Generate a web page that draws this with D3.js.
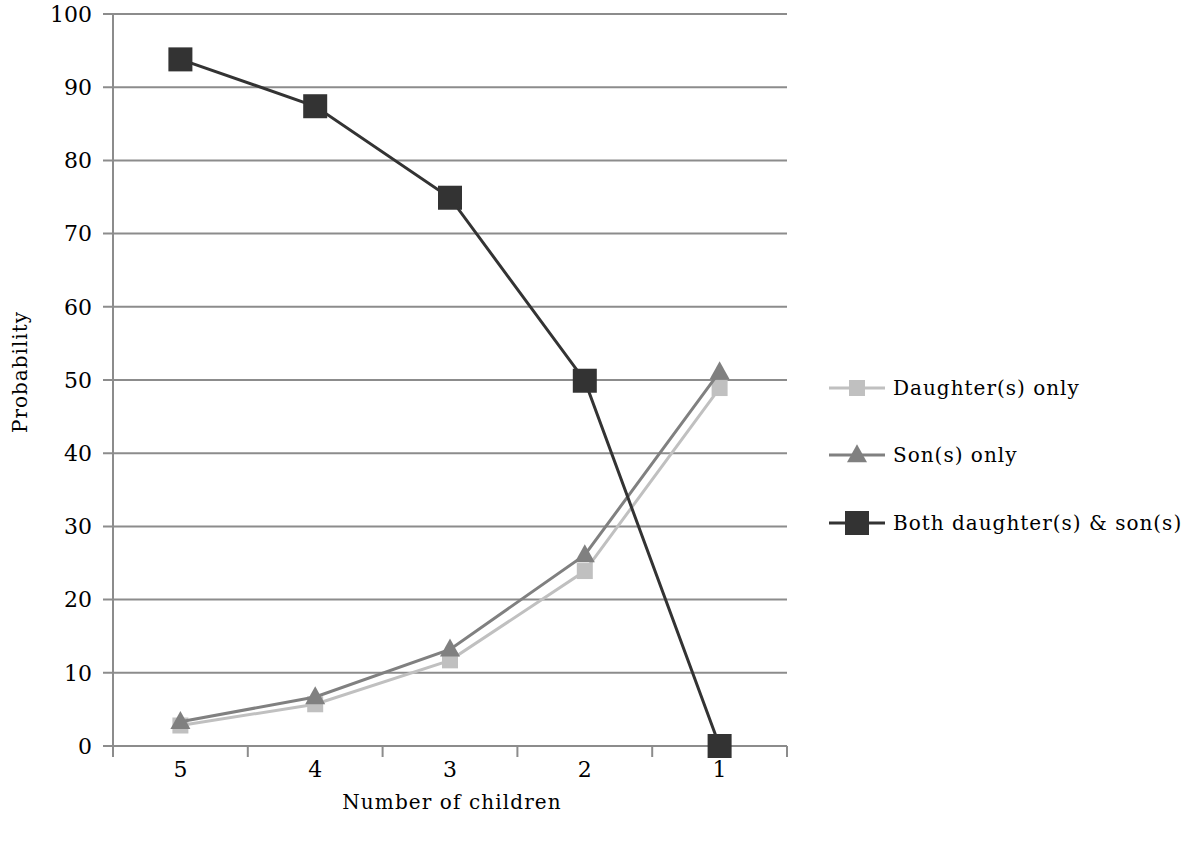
<!DOCTYPE html>
<html>
<head>
<meta charset="utf-8">
<script src="https://cdn.jsdelivr.net/npm/d3@7"></script>
<style>
  body { margin: 0; background: #fff; }
  text { font-family: "DejaVu Serif", serif; }
</style>
</head>
<body>
<svg id="chart" width="1190" height="842"></svg>
<script>
// data
var categories = ["5", "4", "3", "2", "1"];
var daughters = [2.8, 5.7, 11.7, 23.9, 48.9];
var sons = [3.3, 6.7, 13.2, 26.1, 51.1];
var both = [93.8, 87.4, 74.9, 49.9, 0];
var yTicks = [0, 10, 20, 30, 40, 50, 60, 70, 80, 90, 100];

var series = [
    { name: "Daughter(s) only", values: daughters, color: "#c0c0c0", shape: "square", size: 16 },
    { name: "Son(s) only", values: sons, color: "#808080", shape: "triangle", size: 20 },
    { name: "Both daughter(s) & son(s)", values: both, color: "#333333", shape: "square", size: 24 }
];

var svg = d3.select("#chart");

var plotLeft = 113, plotRight = 787, plotTop = 14, plotBottom = 746;

var x = d3.scaleBand()
    .domain(categories)
    .range([plotLeft, plotRight]);

var y = d3.scaleLinear()
    .domain([0, 100])
    .range([plotBottom, plotTop]);

// gridlines (they also act as the y ticks)
svg.append("g")
    .selectAll("line")
    .data(yTicks)
    .enter()
    .append("line")
    .attr("x1", plotLeft - 10)
    .attr("x2", plotRight)
    .attr("y1", d => y(d))
    .attr("y2", d => y(d))
    .attr("stroke", "#8c8c8c")
    .attr("stroke-width", 2);

// y axis line
svg.append("line")
    .attr("x1", plotLeft).attr("x2", plotLeft)
    .attr("y1", plotTop).attr("y2", plotBottom + 10)
    .attr("stroke", "#8c8c8c")
    .attr("stroke-width", 2);

// x axis ticks at category boundaries
var bounds = categories.map(c => x(c)).concat([plotRight]);
svg.append("g")
    .selectAll("line")
    .data(bounds)
    .enter()
    .append("line")
    .attr("x1", d => d).attr("x2", d => d)
    .attr("y1", plotBottom).attr("y2", plotBottom + 11)
    .attr("stroke", "#8c8c8c")
    .attr("stroke-width", 2);

// y tick labels
svg.append("g")
    .selectAll("text")
    .data(yTicks)
    .enter()
    .append("text")
    .attr("x", 92)
    .attr("y", d => y(d))
    .attr("dy", "0.35em")
    .attr("text-anchor", "end")
    .style("font-size", "22px")
    .attr("fill", "#000")
    .text(d => d);

// x tick labels
svg.append("g")
    .selectAll("text")
    .data(categories)
    .enter()
    .append("text")
    .attr("x", d => x(d) + x.bandwidth() / 2)
    .attr("y", 777)
    .attr("text-anchor", "middle")
    .style("font-size", "22px")
    .attr("fill", "#000")
    .text(d => d);

// axis titles
svg.append("text")
    .attr("x", 452)
    .attr("y", 809)
    .attr("text-anchor", "middle")
    .style("font-size", "20px")
    .style("letter-spacing", "1.1px")
    .text("Number of children");

svg.append("text")
    .attr("transform", "translate(27,372) rotate(-90)")
    .attr("text-anchor", "middle")
    .style("font-size", "20px")
    .style("letter-spacing", "1px")
    .text("Probability");

var line = d3.line()
    .x((d, i) => x(categories[i]) + x.bandwidth() / 2)
    .y(d => y(d));

function drawMarker(g, s, cx, cy) {
    if (s.shape === "square") {
        g.append("rect")
            .attr("x", cx - s.size / 2)
            .attr("y", cy - s.size / 2)
            .attr("width", s.size)
            .attr("height", s.size)
            .attr("fill", s.color);
    } else {
        var h = s.size * 0.9;
        g.append("path")
            .attr("d", "M" + cx + "," + (cy - h * 0.6) +
                "L" + (cx + s.size / 2) + "," + (cy + h * 0.4) +
                "L" + (cx - s.size / 2) + "," + (cy + h * 0.4) + "Z")
            .attr("fill", s.color);
    }
}

series.forEach(s => {
    var g = svg.append("g");
    g.append("path")
        .datum(s.values)
        .attr("d", line)
        .attr("fill", "none")
        .attr("stroke", s.color)
        .attr("stroke-width", 3);
    s.values.forEach((v, i) => {
        drawMarker(g, s, x(categories[i]) + x.bandwidth() / 2, y(v));
    });
});

// legend
var legendY = [388, 455, 523];
series.forEach((s, i) => {
    var g = svg.append("g");
    g.append("line")
        .attr("x1", 829).attr("x2", 885)
        .attr("y1", legendY[i]).attr("y2", legendY[i])
        .attr("stroke", s.color)
        .attr("stroke-width", 3);
    drawMarker(g, s, 857, legendY[i]);
    g.append("text")
        .attr("x", 893)
        .attr("y", legendY[i])
        .attr("dy", "0.35em")
        .style("font-size", "20px")
        .style("letter-spacing", "1px")
        .text(s.name);
});
</script>
</body>
</html>
